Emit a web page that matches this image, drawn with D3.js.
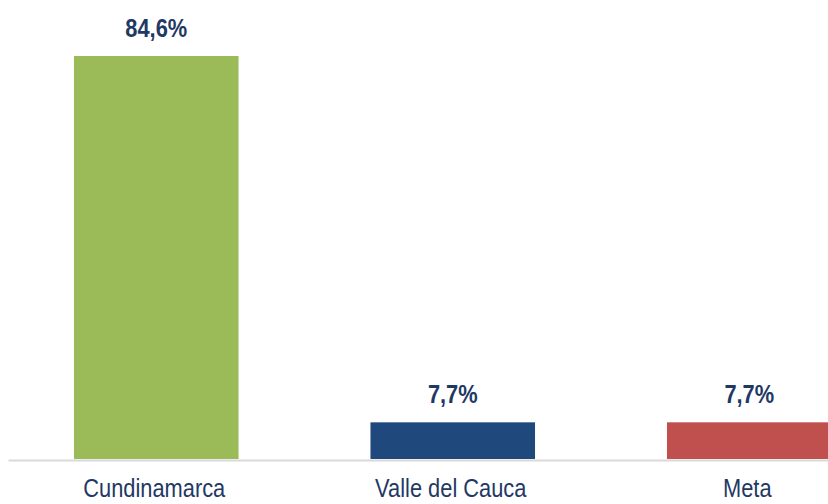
<!DOCTYPE html>
<html>
<head>
<meta charset="utf-8">
<script src="https://cdn.jsdelivr.net/npm/d3@7"></script>
<style>
  body { margin: 0; background: #fff; }
  svg { display: block; }
</style>
</head>
<body>
<div id="chart"></div>
<script>
// datos del gráfico
var categories = ["Cundinamarca", "Valle del Cauca", "Meta"];
var values = [84.6, 7.7, 7.7];
var labels = ["84,6%", "7,7%", "7,7%"];
var colors = ["#9BBB59", "#1F497D", "#C0504D"];

var width = 828, height = 504;
var baseY = 459, topY = 56;
var fontFam = "'Liberation Sans Narrow', 'Arial Narrow', 'Liberation Sans', sans-serif";
var squeeze = "scale(0.84,1)"; // simula fuente estrecha

var svg = d3.select("#chart")
    .append("svg")
    .attr("width", width)
    .attr("height", height);

var xScale = d3.scaleBand()
    .domain(categories)
    .range([8, 8 + 3 * 296.5])
    .paddingInner(0.445)
    .paddingOuter(0.2225);

var yScale = d3.scaleLinear()
    .domain([0, d3.max(values)])
    .range([baseY, topY]);

// barras
svg.append("g")
    .selectAll("rect")
    .data(values)
    .enter()
    .append("rect")
    .attr("x", function(d, i){ return xScale(categories[i]); })
    .attr("y", function(d){ return yScale(d); })
    .attr("width", xScale.bandwidth())
    .attr("height", function(d){ return baseY - yScale(d); })
    .attr("fill", function(d, i){ return colors[i]; });

// eje x
var xAxis = svg.append("g")
    .attr("transform", "translate(0," + (baseY + 1) + ")")
    .call(d3.axisBottom(xScale).tickSize(0).tickPadding(19));
xAxis.select(".domain")
    .attr("stroke", "#D9D9D9")
    .attr("stroke-width", 2);
xAxis.selectAll("text")
    .attr("transform", "translate(-2,0) " + squeeze)
    .style("font-family", fontFam)
    .style("font-size", "26px")
    .style("fill", "#1F3864");

// etiquetas de valor
svg.append("g")
    .selectAll("g")
    .data(values)
    .enter()
    .append("g")
    .attr("transform", function(d, i){
        return "translate(" + (xScale(categories[i]) + xScale.bandwidth() / 2) + "," + (yScale(d) - 19) + ")";
    })
    .append("text")
    .attr("transform", squeeze)
    .attr("text-anchor", "middle")
    .style("font-family", fontFam)
    .style("font-weight", "bold")
    .style("font-size", "26px")
    .style("fill", "#1F3864")
    .text(function(d, i){ return labels[i]; });
</script>
</body>
</html>
